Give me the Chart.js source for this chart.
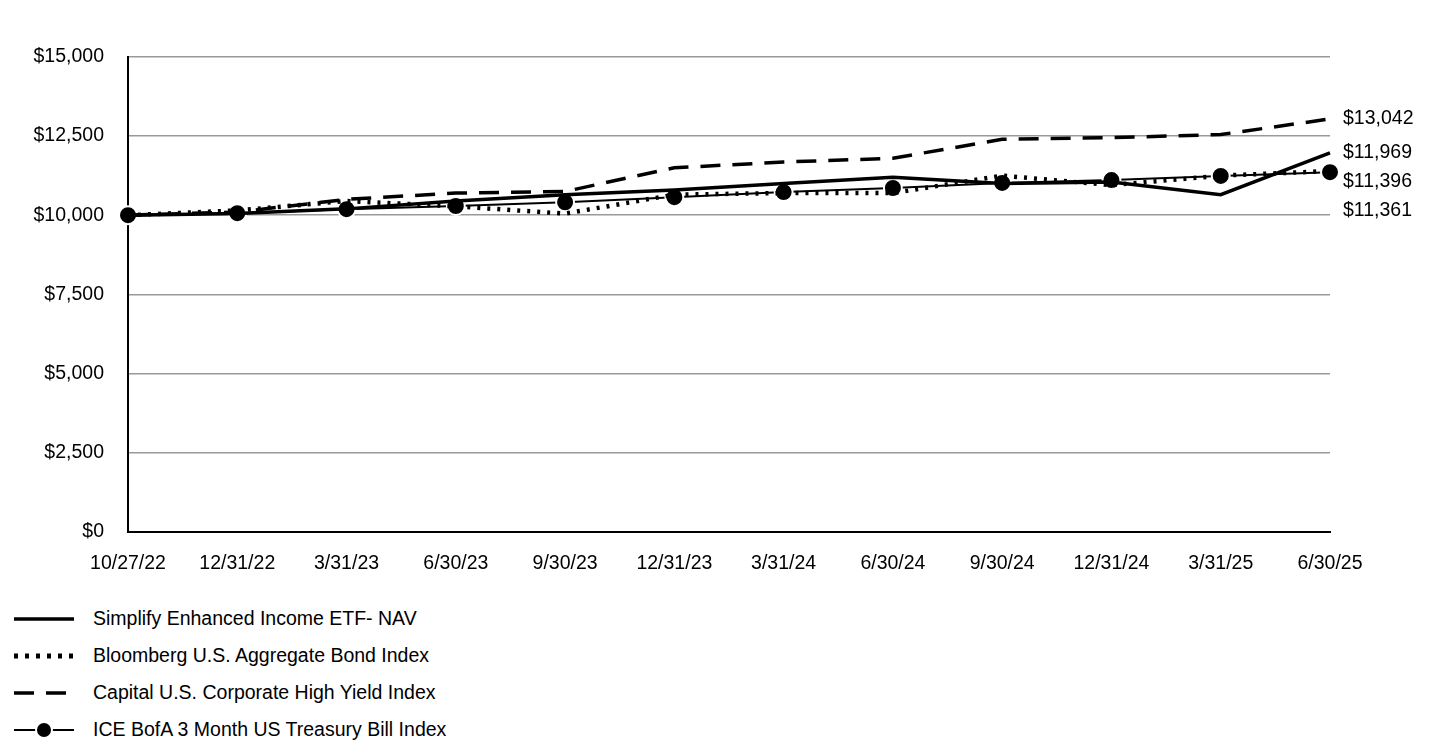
<!DOCTYPE html>
<html><head><meta charset="utf-8">
<script src="https://cdn.jsdelivr.net/npm/chart.js@4"></script>
<style>
body{margin:0;background:#fff;font-family:Arial,"Liberation Sans",sans-serif;}
#wrap{position:absolute;left:0;top:0;width:1440px;height:600px;}
#legend{position:absolute;left:14px;top:600px;font-size:19.5px;color:#000;}
.li{height:37px;display:flex;align-items:center;}
.li svg{margin-right:17px;}
</style></head><body>
<div id="wrap"><canvas id="c"></canvas></div>
<div id="legend">
<div class="li"><svg width="62" height="20"><line x1="0" y1="10" x2="60" y2="10" stroke="#000" stroke-width="3.5"/></svg>Simplify Enhanced Income ETF- NAV</div>
<div class="li"><svg width="62" height="20"><line x1="0" y1="10" x2="60" y2="10" stroke="#000" stroke-width="5" stroke-dasharray="4,7"/></svg>Bloomberg U.S. Aggregate Bond Index</div>
<div class="li"><svg width="62" height="20"><line x1="0" y1="10" x2="60" y2="10" stroke="#000" stroke-width="3.5" stroke-dasharray="20,12"/></svg>Capital U.S. Corporate High Yield Index</div>
<div class="li"><svg width="62" height="20"><line x1="0" y1="10" x2="60" y2="10" stroke="#000" stroke-width="2"/><circle cx="30" cy="10" r="8" fill="#000" stroke="#fff" stroke-width="2"/></svg>ICE BofA 3 Month US Treasury Bill Index</div>
</div>
<script>
const categories=["10/27/22","12/31/22","3/31/23","6/30/23","9/30/23","12/31/23","3/31/24","6/30/24","9/30/24","12/31/24","3/31/25","6/30/25"];
const simplifyNAV=[10000,10050,10200,10450,10650,10800,11000,11200,11000,11050,10650,11969];
const bloombergAgg=[10000,10150,10450,10280,10050,10650,10700,10700,11250,10950,11250,11396];
const capitalHY=[10000,10100,10500,10700,10750,11500,11680,11800,12400,12450,12550,13042];
const iceTBill=[10000,10065,10190,10290,10410,10570,10730,10860,11020,11110,11240,11361];
const endLabels=["$11,969","$11,396","$13,042","$11,361"];

const endLabelPlugin={id:'endLabels',afterDatasetsDraw(ch){
  const ctx=ch.ctx, ys=ch.scales.y;
  let items=ch.data.datasets.map((d,i)=>({y:ys.getPixelForValue(d.data[d.data.length-1]),t:endLabels[i]}));
  items.sort((a,b)=>a.y-b.y);
  for(let i=1;i<items.length;i++){if(items[i].y-items[i-1].y<29)items[i].y=items[i-1].y+29;}
  ctx.save();ctx.font='19.5px Arial, "Liberation Sans"';ctx.fillStyle='#000';ctx.textBaseline='middle';
  items.forEach(it=>ctx.fillText(it.t,ch.chartArea.right+13,it.y));ctx.restore();
}};
new Chart(document.getElementById('c'),{
  type:'line',
  data:{labels:categories,datasets:[
    {data:simplifyNAV,borderColor:'#000',borderWidth:3.5,pointRadius:0,tension:0},
    {data:bloombergAgg,borderColor:'#000',borderWidth:4.5,borderDash:[3,7],pointRadius:0,tension:0},
    {data:capitalHY,borderColor:'#000',borderWidth:3.5,borderDash:[20,12],pointRadius:0,tension:0},
    {data:iceTBill,borderColor:'#000',borderWidth:2,pointRadius:9,pointBackgroundColor:'#000',pointBorderColor:'#fff',pointBorderWidth:2,tension:0}
  ]},
  plugins:[endLabelPlugin],
  options:{responsive:true,maintainAspectRatio:false,animation:false,
    layout:{padding:{left:10,right:110,top:57,bottom:5}},
    plugins:{legend:{display:false},tooltip:{enabled:false}},
    scales:{
      x:{offset:false,grid:{display:false,drawTicks:false},border:{color:'#000',width:2},
         ticks:{color:'#000',font:{size:19.5,family:'Arial'},padding:20,maxRotation:0,autoSkip:false}},
      y:{min:0,max:15000,grid:{color:'#999',lineWidth:1.5,drawTicks:false},border:{color:'#000',width:2},
         afterFit(s){s.width=118;},
         ticks:{stepSize:2500,color:'#000',font:{size:19.5,family:'Arial'},padding:24,
           callback:v=>'$'+v.toLocaleString('en-US')}}
    }}
});
</script></body></html>
